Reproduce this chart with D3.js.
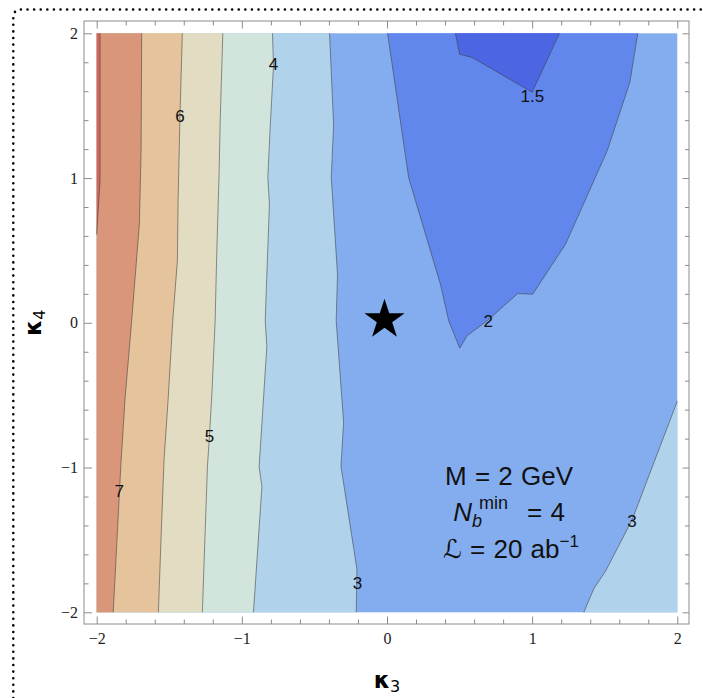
<!DOCTYPE html>
<html>
<head>
    <meta charset="UTF-8">
    <title>kappa3 / kappa4 contour</title>
    <script src="https://d3js.org/d3.v7.min.js"></script>
    <style type="text/css">
        body { margin: 0; background: #fff; }
        .axis .domain { display: none; }
        .axis line { stroke: #8c8c8c; }
        .axis text { font-family: "Liberation Serif", serif; font-size: 16px; fill: #222; }
    </style>
</head>
<body>
    <svg id="chart"></svg>

    <script>
        const WIDTH = 703;
        const HEIGHT = 698;
        // the filled data region and the frame around it (Mathematica pads the range a bit)
        const plot = {left: 96.7, right: 677.3, top: 33.3, bottom: 612.3};
        const frame = {left: 84, right: 689, top: 21, bottom: 624};

        // tick values
        const majorTicks = [-2, -1, 0, 1, 2];
        const minorTicks = [-1.8, -1.6, -1.4, -1.2, -0.8, -0.6, -0.4, -0.2,
                            0.2, 0.4, 0.6, 0.8, 1.2, 1.4, 1.6, 1.8];

        // contour levels and the fill of each band (band i is below levels[i], last is above 8)
        const levels = [1.5, 2, 3, 4, 5, 6, 7, 8];
        const bandColors = ["#4c66e3", "#6187ec", "#84adef", "#b0d2eb", "#d2e5dd",
                            "#e2dcc3", "#e4c39d", "#d9967a", "#cc6a60"];

        // contour lines as [kappa3, kappa4]
        const contour8 = [[-1.977, 2], [-1.977, 0.98], [-2, 0.61]];
        const contour7 = [[-1.690, 2], [-1.694, 1.196], [-1.706, 0.679], [-1.759, 0.016],
                          [-1.805, -0.53], [-1.834, -0.992], [-1.860, -1.497], [-1.886, -2]];
        const contour6 = [[-1.410, 2], [-1.426, 1.438], [-1.439, 0.859], [-1.444, 0.429],
                          [-1.476, 0.016], [-1.508, -0.53], [-1.536, -0.944], [-1.557, -1.497], [-1.575, -2]];
        const contour5 = [[-1.131, 2], [-1.149, 1.403], [-1.157, 1.024], [-1.174, 0.437],
                          [-1.184, 0.016], [-1.205, -0.461], [-1.223, -0.783], [-1.237, -0.990], [-1.272, -2]];
        const contour4 = [[-0.789, 2], [-0.782, 1.776], [-0.805, 1.348], [-0.821, 1.004],
                          [-0.810, 0.817], [-0.829, 0.299], [-0.839, 0.016], [-0.828, -0.163],
                          [-0.860, -0.668], [-0.881, -0.993], [-0.862, -1.131], [-0.920, -2]];
        const contour3L = [[-0.396, 2], [-0.368, 1.370], [-0.384, 1.004], [-0.341, 0.334],
                           [-0.350, 0.016], [-0.299, -0.689], [-0.317, -0.992], [-0.207, -1.703], [-0.212, -2]];
        const contour3R = [[1.356, -2], [1.425, -1.837], [1.506, -1.715], [1.690, -1.358], [2, -0.541]];
        const contour2 = [[0.004, 2], [0.149, 1.003], [0.368, 0.267], [0.425, 0.014], [0.501, -0.175],
                          [0.552, -0.090], [0.690, 0.014], [0.901, 0.202], [1.004, 0.198],
                          [1.230, 0.543], [1.517, 1.188], [1.673, 1.660], [1.728, 2]];
        const contour15 = [[0.471, 2], [0.501, 1.855], [0.586, 1.833], [1.0, 1.593], [1.080, 1.765], [1.188, 2]];

        // contour labels
        const labelText = ["7", "6", "5", "4", "3", "2", "1.5", "3"];
        const labelPos = [[-1.844, -1.163], [-1.427, 1.427], [-1.223, -0.783], [-0.782, 1.782],
                          [-0.203, -1.798], [0.697, 0.009], [1.002, 1.561], [1.687, -1.370]];

        // benchmark point
        const starPoint = [0, 0];

        const svg = d3.select("#chart")
            .attr("width", WIDTH)
            .attr("height", HEIGHT);

        svg.append("rect")
            .attr("width", WIDTH).attr("height", HEIGHT)
            .style("fill", "#fff");

        const x = d3.scaleLinear().domain([-2, 2]).range([plot.left, plot.right]);
        const y = d3.scaleLinear().domain([-2, 2]).range([plot.bottom, plot.top]);

        const line = d3.line().x((d)=>x(d[0])).y((d)=>y(d[1]));

        //---------filled bands-----------
        // background = band between 2 and 3
        svg.append("rect")
            .attr("x", x(-2)).attr("y", y(2))
            .attr("width", x(2) - x(-2)).attr("height", y(-2) - y(2))
            .style("fill", bandColors[2]);

        // each region = contour line + the corners needed to close it, painted in order
        const regions = [
            {pts: contour3L, close: [[-2, -2], [-2, 2]], band: 3},
            {pts: contour4, close: [[-2, -2], [-2, 2]], band: 4},
            {pts: contour5, close: [[-2, -2], [-2, 2]], band: 5},
            {pts: contour6, close: [[-2, -2], [-2, 2]], band: 6},
            {pts: contour7, close: [[-2, -2], [-2, 2]], band: 7},
            {pts: contour8, close: [[-2, 2]], band: 8},
            {pts: contour3R, close: [[2, -2]], band: 3},
            {pts: contour2, close: [], band: 1},
            {pts: contour15, close: [], band: 0}
        ];

        svg.append("g").selectAll("path")
            .data(regions)
            .enter().append("path")
            .attr("d", (d)=>line(d.pts.concat(d.close)) + "Z")
            .style("fill", (d)=>bandColors[d.band])
            .style("stroke", "none");

        // contour lines on top
        svg.append("g").selectAll("path")
            .data(regions)
            .enter().append("path")
            .attr("d", (d)=>line(d.pts))
            .style("fill", "none")
            .style("stroke", "#3c3c3c")
            .style("stroke-opacity", 0.55)
            .style("stroke-width", 1);

        svg.append("g").selectAll("text")
            .data(labelText)
            .enter().append("text")
            .attr("x", (d, i)=>x(labelPos[i][0]))
            .attr("y", (d, i)=>y(labelPos[i][1]))
            .attr("text-anchor", "middle")
            .attr("dominant-baseline", "central")
            .style("font-family", "Liberation Sans, Arial, sans-serif")
            .style("font-size", "17px")
            .style("fill", "#111")
            .text((d)=>d);

        // star marker
        svg.append("path")
            .attr("d", d3.symbol(d3.symbolStar, 500)())
            .attr("transform", `translate(${x(starPoint[0]) - 2.5}, ${y(starPoint[1]) - 3})`)
            .style("fill", "#000");

        //---------frame and ticks-----------
        svg.append("rect")
            .attr("x", frame.left).attr("y", frame.top)
            .attr("width", frame.right - frame.left).attr("height", frame.bottom - frame.top)
            .style("fill", "none")
            .style("stroke", "#8c8c8c")
            .style("stroke-width", 1);

        const add_axis = function(axisFn, scale, transform, majorLen, minorLen, labels, pad) {
            const major = svg.append("g").attr("class", "axis").attr("transform", transform)
                .call(axisFn(scale).tickValues(majorTicks).tickSize(-majorLen).tickPadding(pad)
                    .tickFormat(labels ? d3.format("d") : ""));
            svg.append("g").attr("class", "axis").attr("transform", transform)
                .call(axisFn(scale).tickValues(minorTicks).tickSize(-minorLen).tickFormat(""));
            return major;
        };

        add_axis(d3.axisLeft, y, `translate(${frame.left},0)`, 8, 4.5, true, 6);
        add_axis(d3.axisBottom, x, `translate(0,${frame.bottom})`, 7.5, 4.5, true, 9);
        add_axis(d3.axisTop, x, `translate(0,${frame.top})`, 7.5, 4.5, false, 0);
        add_axis(d3.axisRight, y, `translate(${frame.right},0)`, 6.5, 4, false, 0);

        //---------axis labels-----------
        const xlab = svg.append("text")
            .attr("x", x(0)).attr("y", 688)
            .attr("text-anchor", "middle")
            .style("font-family", "DejaVu Sans, sans-serif");
        xlab.append("tspan").style("font-size", "23px").style("font-weight", "bold").text("κ");
        xlab.append("tspan").style("font-size", "16px").attr("dy", 4).text("3");

        const ylab = svg.append("text")
            .attr("transform", `translate(41, ${y(0)}) rotate(-90)`)
            .attr("text-anchor", "middle")
            .style("font-family", "DejaVu Sans, sans-serif");
        ylab.append("tspan").style("font-size", "23px").style("font-weight", "bold").text("κ");
        ylab.append("tspan").style("font-size", "16px").attr("dy", 4).text("4");

        //---------annotation-----------
        const note = svg.append("g")
            .style("font-family", "Liberation Sans, Arial, DejaVu Sans, sans-serif")
            .style("fill", "#111");

        note.append("text")
            .attr("x", 509).attr("y", 485)
            .attr("text-anchor", "middle")
            .style("font-size", "26px")
            .style("word-spacing", "1px")
            .text("M = 2 GeV");

        const n = note.append("text")
            .attr("x", 509).attr("y", 521)
            .attr("text-anchor", "middle")
            .style("font-size", "26px");
        n.append("tspan").style("font-style", "italic").text("N");
        n.append("tspan").style("font-style", "italic").style("font-size", "18px").attr("dy", 6).text("b");
        n.append("tspan").style("font-size", "18px").attr("dx", -3).attr("dy", -18).text("min");
        n.append("tspan").attr("dx", 19).attr("dy", 12).style("word-spacing", "1px").text("= 4");

        const lum = note.append("text")
            .attr("x", 511).attr("y", 558)
            .attr("text-anchor", "middle")
            .style("font-size", "26px");
        lum.append("tspan").style("word-spacing", "1px").text("ℒ = 20 ab");
        lum.append("tspan").style("font-size", "17px").attr("dy", -11).text("−1");

        //---------dotted border-----------
        svg.append("path")
            .attr("d", "M13.3,698 V18 Q13.3,9.5 21,9.5 H703")
            .style("fill", "none")
            .style("stroke", "#000")
            .style("stroke-width", 2.6)
            .style("stroke-linecap", "round")
            .style("stroke-dasharray", "0 6.6");
    </script>
</body>
</html>
